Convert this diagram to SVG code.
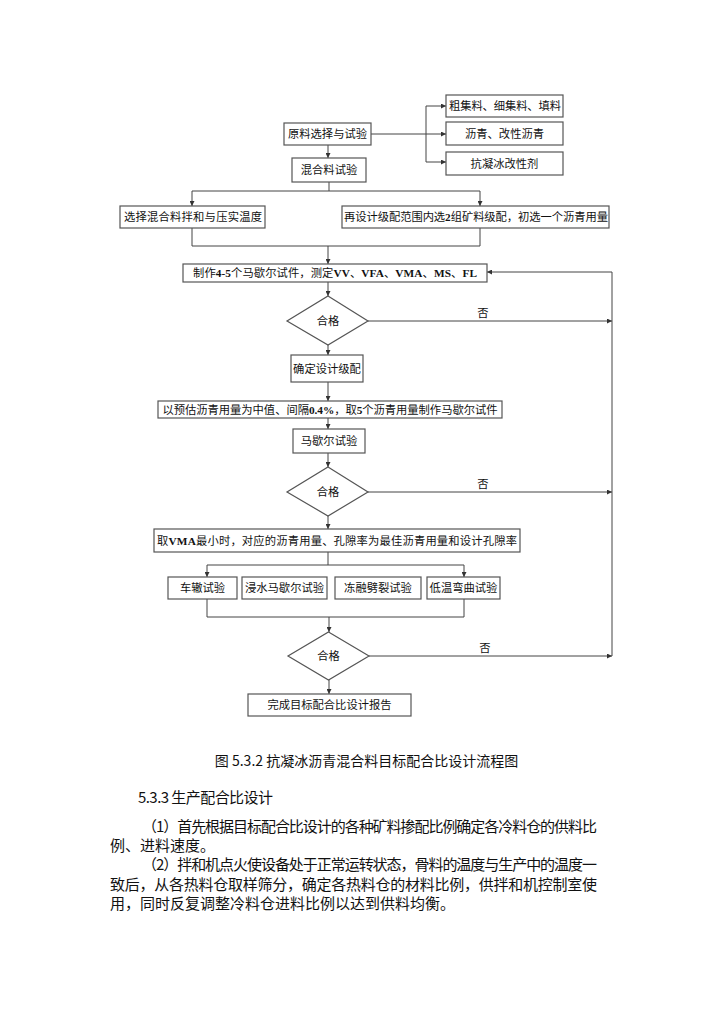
<svg xmlns="http://www.w3.org/2000/svg" width="724" height="1024" viewBox="0 0 724 1024">
<defs>
<marker id="ah" markerWidth="5" markerHeight="5" refX="5" refY="2.5" orient="auto" markerUnits="userSpaceOnUse">
<path d="M0,0 L5,2.5 L0,5 z" fill="#333"/>
</marker>
<style>
.box{fill:#fff;stroke:#555;stroke-width:1.2}
.t{font-family:"Liberation Serif","Noto Sans CJK SC",serif;font-size:11.3px;fill:#111;text-anchor:middle}
.b{font-weight:bold}
.ln{fill:none;stroke:#444;stroke-width:1}
.ar{fill:none;stroke:#444;stroke-width:1;marker-end:url(#ah)}
.cap{font-family:"Noto Sans CJK SC","Noto Sans",sans-serif;fill:#111}
</style>
</defs>
<rect width="724" height="1024" fill="#fff"/>

<g id="connectors">
<path class="ar" d="M371,134 H446"/>
<path class="ln" d="M426,106 V162"/>
<path class="ar" d="M426,106 H446"/>
<path class="ar" d="M426,162 H446"/>
<path class="ar" d="M328,145 V158"/>
<path class="ln" d="M329,182 V191 M192,191 H480"/>
<path class="ar" d="M192,191 V206"/>
<path class="ar" d="M480,191 V206"/>
<path class="ln" d="M192,228 V246 H480 V228"/>
<path class="ar" d="M328,246 V264"/>
<path class="ar" d="M328,282 V296"/>
<path class="ar" d="M368,321 H612"/>
<path class="ar" d="M328,345 V355"/>
<path class="ar" d="M328,382 V401"/>
<path class="ar" d="M328,418 V429"/>
<path class="ar" d="M328,453 V467"/>
<path class="ar" d="M368,492 H612"/>
<path class="ar" d="M328,516 V529"/>
<path class="ln" d="M328,552 V565 M207,565 H464"/>
<path class="ar" d="M207,565 V577"/>
<path class="ar" d="M464,565 V577"/>
<path class="ln" d="M207,599 V617 H464 V599"/>
<path class="ar" d="M329,617 V632"/>
<path class="ar" d="M369,656 H612"/>
<path class="ar" d="M329,680 V694"/>
<path class="ar" d="M612,656 V272 H487"/>
<text class="t" x="483" y="317">否</text>
<text class="t" x="483" y="488">否</text>
<text class="t" x="485" y="652">否</text>
</g>

<g id="n1"><rect class="box" x="284" y="123" width="87" height="22"/><text class="t" x="327.5" y="138">原料选择与试验</text></g>
<g id="n2"><rect class="box" x="292" y="158" width="74" height="24"/><text class="t" x="329" y="174">混合料试验</text></g>
<g id="m1"><rect class="box" x="446" y="95" width="117" height="22"/><text class="t" x="505" y="110" textLength="112" lengthAdjust="spacing">粗集料、细集料、填料</text></g>
<g id="m2"><rect class="box" x="446" y="122" width="117" height="23"/><text class="t" x="504.5" y="137.5">沥青、改性沥青</text></g>
<g id="m3"><rect class="box" x="446" y="152" width="117" height="23"/><text class="t" x="504.5" y="167.5">抗凝冰改性剂</text></g>
<g id="n3"><rect class="box" x="120" y="206" width="145" height="22"/><text class="t" x="193" y="221" textLength="138" lengthAdjust="spacing">选择混合料拌和与压实温度</text></g>
<g id="n4"><rect class="box" x="342" y="206" width="267" height="22"/><text class="t" x="476" y="221" textLength="264" lengthAdjust="spacing">再设计级配范围内选<tspan class="b">2</tspan>组矿料级配，初选一个沥青用量</text></g>
<g id="n5"><rect class="box" x="183" y="264" width="304" height="18"/><text class="t" x="335" y="277" textLength="284" lengthAdjust="spacing">制作<tspan class="b">4-5</tspan>个马歇尔试件，测定<tspan class="b">VV</tspan>、<tspan class="b">VFA</tspan>、<tspan class="b">VMA</tspan>、<tspan class="b">MS</tspan>、<tspan class="b">FL</tspan></text></g>
<g id="d1"><polygon class="box" points="328,296 368,321 328,345 287,321"/><text class="t" x="328" y="325">合格</text></g>
<g id="n6"><rect class="box" x="291" y="355" width="72" height="27"/><text class="t" x="327" y="372.5">确定设计级配</text></g>
<g id="n7"><rect class="box" x="158" y="401" width="344" height="17"/><text class="t" x="330" y="413.5" textLength="335" lengthAdjust="spacing">以预估沥青用量为中值、间隔<tspan class="b">0.4%</tspan>，取<tspan class="b">5</tspan>个沥青用量制作马歇尔试件</text></g>
<g id="n8"><rect class="box" x="293" y="429" width="72" height="24"/><text class="t" x="329" y="445">马歇尔试验</text></g>
<g id="d2"><polygon class="box" points="328,467 368,492 328,516 287,492"/><text class="t" x="328" y="496">合格</text></g>
<g id="n9"><rect class="box" x="154" y="529" width="366" height="23"/><text class="t" x="337" y="544.5" textLength="360" lengthAdjust="spacing">取<tspan class="b">VMA</tspan>最小时，对应的沥青用量、孔隙率为最佳沥青用量和设计孔隙率</text></g>
<g id="n10"><rect class="box" x="168" y="577" width="69" height="22"/><text class="t" x="202.5" y="592">车辙试验</text></g>
<g id="n11"><rect class="box" x="242" y="577" width="85" height="22"/><text class="t" x="284.5" y="592">浸水马歇尔试验</text></g>
<g id="n12"><rect class="box" x="335" y="577" width="86" height="22"/><text class="t" x="378" y="592">冻融劈裂试验</text></g>
<g id="n13"><rect class="box" x="427" y="577" width="73" height="22"/><text class="t" x="463.5" y="592">低温弯曲试验</text></g>
<g id="d3"><polygon class="box" points="328.5,632 369,656 328.5,680 288,656"/><text class="t" x="328.5" y="660">合格</text></g>
<g id="n14"><rect class="box" x="248" y="694" width="163" height="22"/><text class="t" x="329.5" y="709" textLength="124" lengthAdjust="spacing">完成目标配合比设计报告</text></g>

<g id="caption">
<text class="cap" x="366.5" y="766" font-size="14" text-anchor="middle">图 5.3.2 抗凝冰沥青混合料目标配合比设计流程图</text>
<text class="cap" x="138" y="803" font-size="15" textLength="135" lengthAdjust="spacing">5.3.3 生产配合比设计</text>
<text class="cap" x="142" y="832" font-size="15" textLength="455" lengthAdjust="spacing">（1）首先根据目标配合比设计的各种矿料掺配比例确定各冷料仓的供料比</text>
<text class="cap" x="110" y="851" font-size="15">例、进料速度。</text>
<text class="cap" x="142" y="870" font-size="15" textLength="455" lengthAdjust="spacing">（2）拌和机点火使设备处于正常运转状态，骨料的温度与生产中的温度一</text>
<text class="cap" x="110" y="889.5" font-size="15" textLength="487" lengthAdjust="spacing">致后，从各热料仓取样筛分，确定各热料仓的材料比例，供拌和机控制室使</text>
<text class="cap" x="110" y="908.5" font-size="15">用，同时反复调整冷料仓进料比例以达到供料均衡。</text>
</g>
</svg>
